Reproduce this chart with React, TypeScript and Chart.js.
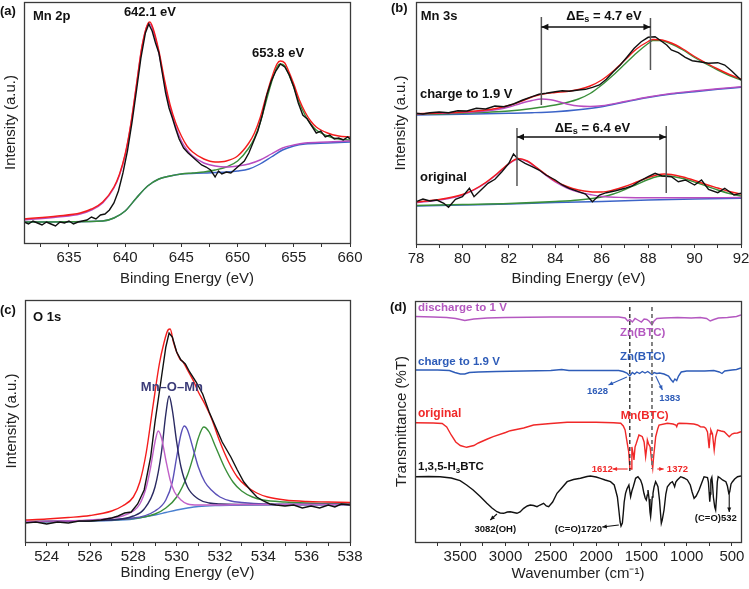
import React, { useEffect, useRef } from 'react';
import { Chart, registerables } from 'chart.js';
Chart.register(...registerables);

const FAM = '"Liberation Sans", Arial, Helvetica, sans-serif';
type Pt = [number, number];

// ---------------- (a) Mn 2p ----------------
const mn2pRaw: Pt[] = [
  [631.0, 21], [631.4, 19], [631.8, 22], [632.2, 20], [632.6, 18], [633.0, 21], [633.4, 19], [633.8, 17],
  [634.2, 21], [634.6, 20], [635.0, 22], [635.4, 19], [635.8, 21], [636.2, 22], [636.6, 23], [637.0, 26],
  [637.4, 24], [637.8, 28], [638.2, 29], [638.6, 33], [639.0, 40], [639.4, 52], [639.8, 70], [640.2, 92],
  [640.6, 120], [641.0, 152], [641.4, 185], [641.8, 210], [642.1, 219], [642.4, 212], [642.7, 200],
  [643.0, 190], [643.3, 170], [643.6, 150], [643.9, 135], [644.2, 125], [644.5, 114], [644.8, 104],
  [645.2, 95], [645.6, 90], [646.0, 86], [646.4, 82], [646.8, 78], [647.2, 76], [647.6, 73], [648.0, 66],
  [648.3, 72], [648.6, 69], [649.0, 71], [649.4, 70], [649.8, 74], [650.2, 78], [650.6, 82], [651.0, 90],
  [651.4, 101], [651.8, 112], [652.2, 128], [652.6, 148], [653.0, 162], [653.4, 172], [653.8, 179],
  [654.2, 176], [654.6, 168], [655.0, 156], [655.4, 140], [655.8, 128], [656.2, 124], [656.6, 117],
  [657.0, 110], [657.4, 112], [657.8, 106], [658.2, 108], [658.6, 104], [659.0, 105], [659.4, 103],
  [659.8, 106], [660.0, 104],
];
const mn2pEnvelope: Pt[] = [
  [631, 24], [634, 27], [636, 30], [637, 34], [638, 41], [639, 56], [639.5, 69], [640, 89], [640.5, 119],
  [641, 158], [641.5, 197], [642, 219], [642.2, 221], [642.5, 214], [643, 192], [643.5, 163], [644, 138],
  [644.5, 120], [645, 107], [645.5, 97], [646, 91], [647, 84], [648, 81], [649, 82], [650, 87], [651, 100],
  [651.5, 110], [652, 125], [652.5, 145], [653, 164], [653.5, 179], [653.8, 182], [654.2, 180], [654.5, 173],
  [655, 159], [655.5, 143], [656, 131], [656.5, 122], [657, 116], [658, 110], [659, 107], [660, 106],
];
const mn2p32Fit: Pt[] = [
  [631, 23], [634, 26], [636, 29], [637, 33], [638, 40], [639, 55], [639.5, 68], [640, 88], [640.5, 118],
  [641, 157], [641.5, 196], [642, 218], [642.2, 219], [642.5, 212], [643, 190], [643.5, 160], [644, 135],
  [644.5, 116], [645, 102], [645.5, 93], [646, 87], [647, 80], [648, 77], [649, 76], [650, 77], [651, 79],
  [652, 83], [653, 89], [654, 95], [655, 98], [656, 100], [658, 101], [660, 102],
];
const mn2p12Fit: Pt[] = [
  [631, 21], [638, 22], [639, 25], [640, 32], [641, 45], [642, 57], [643, 64], [644, 67], [645, 69],
  [646, 70], [647, 71], [648, 73], [649, 76], [650, 82], [651, 95], [651.5, 105], [652, 120], [652.5, 140],
  [653, 160], [653.5, 176], [653.8, 179], [654.2, 177], [654.5, 170], [655, 156], [655.5, 140], [656, 128],
  [656.5, 119], [657, 113], [658, 107], [659, 104], [660, 103],
];
const mn2pBackground: Pt[] = [
  [631, 21], [638, 22], [639, 25], [640, 32], [641, 45], [642, 57], [643, 64], [644, 67], [645, 69],
  [647, 70], [649, 71], [650, 72], [651, 74], [652, 79], [653, 86], [654, 93], [655, 97], [656, 99],
  [658, 100], [660, 101],
];

// ---------------- (b) Mn 3s ----------------
const mn3sChargedRaw: Pt[] = [
  [78.0, 130.7], [78.3, 130], [78.6, 131.3], [79.0, 132], [79.4, 131.3], [79.8, 133.3], [80.2, 133],
  [80.6, 135.7], [81.0, 135], [81.4, 138], [81.8, 137.3], [82.2, 140], [82.6, 144], [83.0, 147.3],
  [83.3, 149.7], [83.6, 150.7], [84.0, 152.3], [84.3, 153.3], [84.6, 152.7], [85.0, 154], [85.3, 154.7],
  [85.6, 156.7], [85.9, 159], [86.2, 164.7], [86.5, 172.3], [86.8, 179], [87.1, 187.3], [87.4, 195.7],
  [87.7, 202.3], [88.0, 206.7], [88.3, 207.3], [88.5, 204], [88.8, 199], [89.0, 194], [89.3, 191.3],
  [89.6, 186.7], [89.9, 183.3], [90.2, 182.3], [90.6, 180.7], [91.0, 181.3], [91.3, 179], [91.6, 173],
  [92.0, 164],
];
const mn3sChargedEnvelope: Pt[] = [
  [78, 130.3], [79, 131], [80, 132], [81, 134], [81.5, 135.8], [82, 138.5], [82.5, 142.5], [83, 147],
  [83.4, 149.8], [84, 151.5], [84.5, 152.5], [85, 154.5], [85.5, 158], [86, 164], [86.5, 173], [87, 184],
  [87.5, 195], [88, 202.5], [88.2, 204.5], [88.5, 204.3], [89, 201], [89.5, 195], [90, 187.5], [90.5, 181],
  [91, 175], [91.5, 169.5], [92, 165],
];
const mn3sChargedLow: Pt[] = [
  [78, 130], [79, 130.8], [80, 131.5], [81, 133], [81.5, 134.5], [82, 137], [82.5, 140.5], [83, 143.5],
  [83.4, 145], [83.8, 144.3], [84.2, 142], [84.6, 139.5], [85, 138], [85.5, 137.5], [86, 138.3], [87, 142.5],
  [88, 147], [89, 150.5], [90, 153], [91, 155.3], [92, 157.3],
];
const mn3sChargedHigh: Pt[] = [
  [78, 129.7], [79, 130], [80, 130.7], [81, 131.7], [82, 133], [83, 135.5], [84, 139], [84.5, 141.5],
  [85, 145], [85.5, 150.5], [86, 159], [86.5, 169], [87, 180], [87.5, 191], [88, 200.5], [88.2, 203.5],
  [88.5, 203.5], [89, 200], [89.5, 194], [90, 186.5], [90.5, 180], [91, 174], [91.5, 168.5], [92, 164],
];
const mn3sChargedBackground: Pt[] = [
  [78, 129], [80, 129.7], [82, 130.7], [83, 131.3], [84, 132.3], [85, 134.3], [86, 137.3], [87, 142],
  [88, 146.5], [89, 150], [90, 152.3], [91, 154.7], [92, 156.7],
];
const mn3sOriginalRaw: Pt[] = [
  [78.0, 42.3], [78.3, 45], [78.6, 43], [78.9, 44], [79.2, 40.7], [79.4, 36.7], [79.7, 44.7], [80.0, 47.3],
  [80.3, 55.7], [80.5, 47.3], [80.8, 54], [81.1, 60.7], [81.4, 64.7], [81.7, 72.3], [82.0, 80.7], [82.2, 90],
  [82.4, 84.7], [82.7, 80.7], [83.0, 77.3], [83.3, 74], [83.6, 69], [84.0, 64], [84.3, 59], [84.6, 55.7],
  [85.0, 52.3], [85.3, 50], [85.6, 42.3], [85.9, 49], [86.2, 51.3], [86.6, 53.3], [87.0, 55.7], [87.3, 58],
  [87.6, 62.3], [88.0, 67.3], [88.3, 70.7], [88.6, 68], [89.0, 67.3], [89.3, 62.3], [89.6, 64], [90.0, 59],
  [90.3, 64], [90.6, 54.7], [91.0, 51.3], [91.3, 55.7], [91.7, 49], [92.0, 50.7],
];
const mn3sOriginalEnvelope: Pt[] = [
  [78, 42], [79, 44.5], [80, 49.5], [80.5, 54.5], [81, 61.5], [81.5, 70.5], [82, 80.5], [82.4, 85.5],
  [82.8, 83], [83.2, 76.5], [83.6, 69.5], [84, 63], [84.5, 57.5], [85, 54], [85.5, 52.3], [86, 52],
  [86.5, 54], [87, 57.5], [87.5, 62], [88, 66.5], [88.4, 69.3], [88.7, 70], [89, 69.5], [89.5, 67],
  [90, 63.5], [90.5, 59.5], [91, 56], [91.5, 52.5], [92, 50],
];
const mn3sOriginalLow: Pt[] = [
  [78, 41.5], [78.5, 42.5], [79, 44], [79.5, 46], [80, 49], [80.5, 54], [81, 61], [81.5, 70], [82, 80],
  [82.4, 85], [82.8, 82.5], [83.2, 76], [83.6, 68.5], [84, 62], [84.5, 56], [85, 52], [85.5, 49.5],
  [86, 47.5], [87, 46.5], [88, 46.2], [90, 46.2], [92, 46.5],
];
const mn3sOriginalHigh: Pt[] = [
  [78, 38.5], [80, 39.5], [82, 40.5], [84, 42.5], [85, 44], [86, 47], [86.5, 50], [87, 54.5], [87.5, 59.5],
  [88, 64.5], [88.4, 67.5], [88.7, 68.3], [89, 67.8], [89.5, 65.5], [90, 62], [90.5, 58], [91, 54],
  [91.5, 50.5], [92, 48],
];
const mn3sOriginalBackground: Pt[] = [
  [78, 38], [80, 39], [82, 40], [84, 41.5], [86, 42.5], [88, 44], [90, 45], [92, 45.7],
];

// ---------------- (c) O 1s ----------------
const o1sRaw: Pt[] = [
  [523, 19], [523.5, 20], [524, 18], [524.5, 20], [525, 19], [525.5, 21], [526, 21], [526.5, 22], [527, 24],
  [527.3, 26], [527.6, 29], [527.9, 30], [528.2, 38], [528.5, 52], [528.8, 85], [529.0, 120], [529.3, 165],
  [529.5, 195], [529.65, 209], [529.8, 205], [530.0, 190], [530.2, 182], [530.4, 178], [530.6, 170],
  [530.9, 160], [531.2, 148], [531.5, 130], [531.8, 115], [532.1, 100], [532.5, 85], [532.8, 72],
  [533.1, 60], [533.4, 52], [533.7, 45], [534, 41], [534.3, 38], [534.6, 37], [535, 36], [535.4, 37],
  [535.8, 34], [536.2, 36], [536.6, 34], [537, 37], [537.3, 35], [537.6, 38], [538, 37],
];
const o1sEnvelope: Pt[] = [
  [523, 22], [524, 23], [525, 24.5], [526, 26.5], [527, 31], [527.5, 36], [528, 45], [528.3, 60], [528.6, 90],
  [528.9, 135], [529.2, 178], [529.4, 198], [529.6, 212], [529.7, 213], [529.85, 200], [530.0, 190],
  [530.15, 183], [530.3, 180], [530.5, 172], [530.8, 160], [531.0, 150], [531.3, 138], [531.6, 124],
  [532.0, 100], [532.4, 80], [532.8, 65], [533.2, 56], [533.7, 49], [534.2, 45], [535, 42], [536, 40.5],
  [537, 40], [538, 39.5],
];
const o1sPeak1: Pt[] = [
  [523, 20.5], [526, 22], [527, 24], [527.5, 26], [528, 31], [528.3, 38], [528.6, 55], [528.8, 75],
  [529.0, 100], [529.15, 111], [529.3, 104], [529.5, 82], [529.7, 62], [529.9, 50], [530.2, 42], [530.5, 38],
  [531, 37], [532, 37], [533, 37.5], [538, 37.5],
];
const o1sPeak2: Pt[] = [
  [523, 20.3], [527, 22], [528, 26], [528.5, 33], [529, 55], [529.3, 90], [529.5, 128], [529.65, 146],
  [529.8, 132], [530.0, 100], [530.2, 75], [530.5, 55], [531, 43], [531.5, 39], [532, 38], [534, 37.5],
  [538, 37.5],
];
const o1sPeak3: Pt[] = [
  [523, 20.3], [528, 24], [529, 31], [529.5, 42], [529.8, 60], [530.0, 85], [530.2, 108], [530.35, 116],
  [530.5, 112], [530.8, 90], [531.0, 75], [531.3, 60], [531.6, 52], [532, 45], [532.5, 41], [533, 39.5],
  [534, 38], [538, 37.5],
];
const o1sPeak4: Pt[] = [
  [523, 20.3], [528, 23.5], [529, 28], [529.5, 34], [530, 45], [530.5, 67], [530.8, 88], [531.0, 104],
  [531.25, 115], [531.5, 110], [531.8, 95], [532.2, 75], [532.6, 60], [533, 51], [533.5, 45], [534, 42],
  [535, 40], [536, 39], [538, 38],
];
const o1sBackground: Pt[] = [
  [523, 20], [526, 21], [527, 21.5], [528, 23], [528.5, 25], [529, 27], [529.5, 29.5], [530, 32],
  [530.5, 34], [531, 35.5], [532, 36.5], [533, 37], [535, 37.3], [538, 37.5],
];

// ---------------- (d) FTIR ----------------
const irDischarge: Pt[] = [
  [4000, 225.5], [3800, 225], [3650, 224.5], [3550, 223.5], [3450, 221.5], [3350, 223], [3200, 224],
  [3000, 224.5], [2500, 225], [2000, 225], [1750, 225], [1680, 224], [1650, 221], [1628, 222.5],
  [1600, 220], [1570, 223.5], [1540, 222], [1500, 220], [1470, 223], [1440, 222.5], [1410, 220.5],
  [1383, 217], [1360, 221], [1330, 223.5], [1250, 224], [1100, 224.5], [950, 224], [850, 224.5],
  [780, 223.5], [740, 221], [700, 222.5], [650, 224], [550, 224.5], [450, 225.5], [400, 227],
];
const irCharge: Pt[] = [
  [4000, 172], [3750, 172], [3620, 171.5], [3560, 169.5], [3500, 168], [3450, 168], [3400, 169.5],
  [3300, 170], [3100, 170.5], [2800, 171], [2500, 171.5], [2380, 172.5], [2300, 171.5], [2000, 171.5],
  [1750, 171.5], [1700, 170.5], [1660, 169], [1628, 166], [1600, 169.5], [1575, 168], [1550, 170],
  [1520, 168.5], [1490, 170.5], [1460, 169], [1430, 170.5], [1400, 168.5], [1383, 167.5], [1360, 169.5],
  [1330, 168.5], [1300, 169], [1250, 168], [1200, 166], [1170, 162], [1150, 160], [1130, 163],
  [1110, 161.5], [1090, 166], [1060, 170], [1000, 171], [900, 171], [800, 171], [700, 171.5], [640, 170],
  [610, 168.5], [580, 171], [500, 172], [450, 172.5], [400, 174],
];
const irOriginal: Pt[] = [
  [4000, 119.3], [3800, 119], [3700, 118.5], [3650, 115], [3600, 107], [3550, 100], [3500, 96.5],
  [3430, 94.7], [3350, 96.5], [3300, 99], [3200, 103], [3136, 105.3], [3000, 109.5], [2948, 111.3],
  [2800, 114], [2690, 117], [2500, 118.5], [2320, 119.7], [2000, 119.7], [1807, 119.3], [1728, 118.7],
  [1700, 116], [1680, 112], [1656, 98.7], [1640, 90], [1627, 73.7], [1612, 73], [1605, 95], [1590, 88],
  [1582, 82], [1570, 95], [1556, 98.7], [1527, 107], [1500, 106], [1490, 105.3], [1470, 100],
  [1453, 85.3], [1440, 95], [1434, 102], [1420, 98], [1404, 95.3], [1385, 80], [1375, 73.7], [1365, 85],
  [1342, 105.3], [1320, 113], [1305, 117], [1213, 118.7], [1150, 118], [1120, 117], [1110, 115.3],
  [1100, 118], [1084, 118.7], [1000, 118.5], [921, 118], [880, 117], [848, 115.3], [810, 115], [790, 113.7],
  [770, 110], [752, 93.7], [740, 108], [733, 112], [715, 108], [696, 92], [680, 105], [659, 112], [620, 111],
  [585, 110.3], [560, 108], [530, 105.3], [500, 108], [475, 108.7], [440, 109], [400, 110.3],
];
const irH3BTC: Pt[] = [
  [4000, 65.3], [3850, 65.5], [3723, 65.3], [3600, 64], [3502, 61.3], [3430, 57], [3358, 52], [3280, 45.5],
  [3206, 38.7], [3150, 34], [3095, 30.3], [3060, 29], [3021, 28.7], [2980, 30], [2948, 30.3], [2910, 29.5],
  [2874, 28.7], [2840, 30], [2800, 33.7], [2760, 36], [2727, 37], [2690, 36.5], [2653, 35.3], [2620, 37],
  [2580, 38.7], [2550, 36], [2524, 35.3], [2480, 40], [2432, 48.7], [2380, 54], [2320, 60.3], [2250, 62.5],
  [2173, 63.7], [2100, 65.5], [2062, 66], [2000, 65], [1952, 63.7], [1900, 62], [1841, 60.3], [1800, 57],
  [1785, 52], [1765, 45], [1749, 32], [1735, 20], [1725, 16], [1710, 19], [1700, 28.7], [1690, 40],
  [1675, 48.7], [1660, 53], [1638, 57], [1630, 52], [1619, 45.3], [1605, 51], [1590, 55.3], [1575, 60],
  [1564, 63.7], [1538, 65.3], [1509, 62], [1490, 57], [1472, 48.7], [1458, 44], [1446, 42], [1435, 47],
  [1427, 52], [1415, 43], [1405, 30], [1398, 25.3], [1390, 33], [1380, 45], [1372, 48.7], [1360, 55],
  [1343, 60.3], [1330, 58], [1317, 55.3], [1300, 42], [1290, 30], [1280, 18.7], [1270, 22], [1250, 32],
  [1230, 48], [1213, 55.3], [1180, 59], [1158, 60.3], [1140, 57], [1133, 55.3], [1120, 60], [1103, 62],
  [1066, 65.3], [1030, 64], [992, 62], [960, 57], [940, 50], [918, 43.7], [895, 46], [863, 52], [830, 60],
  [808, 65.3], [770, 64.5], [760, 60], [752, 50], [745, 40.3], [738, 48], [733, 62], [722, 64.7], [715, 58],
  [705, 45], [690, 35], [680, 32], [670, 45], [662, 60], [652, 65.3], [630, 64], [604, 62], [580, 61],
  [567, 60.3], [550, 56], [535, 48.7], [525, 50], [510, 58], [494, 60.3], [470, 63], [438, 65.3], [400, 66],
];

// ---------------- tick values ----------------
const aMajor = [635, 640, 645, 650, 655, 660];
const aMinor = [632.5, 637.5, 642.5, 647.5, 652.5, 657.5];
const bMajor = [78, 80, 82, 84, 86, 88, 90, 92];
const bMinor = [79, 81, 83, 85, 87, 89, 91];
const cMajor = [524, 526, 528, 530, 532, 534, 536, 538];
const cMinor = [523, 525, 527, 529, 531, 533, 535, 537];
const dMajor = [3500, 3000, 2500, 2000, 1500, 1000, 500];
const dMinor = [3750, 3250, 2750, 2250, 1750, 1250, 750];

// ---------------- colours ----------------
const RED = '#f41c1c';
const PURPLE = '#b84cc0';
const GREEN = '#3a8f3a';
const BLUE = '#3c64c8';
const BLACK = '#111111';

type Seg = { t: string; sub?: boolean };
type Note =
  | { k: 'text'; x: number; y: number; segs: Seg[]; size: number; color: string; align: 'left' | 'center' }
  | { k: 'line'; x1: number; y1: number; x2: number; y2: number; color: string; width: number; dash?: number[] }
  | { k: 'arrow'; x1: number; y1: number; x2: number; y2: number; color: string; width: number; head: number; both?: boolean };

interface Series { data: Pt[]; color: string; width?: number; smooth?: boolean }
interface Panel {
  key: string; left: number; top: number; cw: number; ch: number;
  area: [number, number, number, number];
  xMin: number; xMax: number; reverse?: boolean; yMax: number;
  major: number[]; minor: number[];
  xTitle: string; yTitle: string; yTitlePad: number; xTitlePad: number;
  letter: string; letterPos: [number, number];
  series: Series[]; notes: Note[];
}

const T = (x: number, y: number, s: string | Seg[], size: number, color: string, align: 'left' | 'center' = 'left'): Note => ({
  k: 'text', x, y, segs: typeof s === 'string' ? [{ t: s }] : s, size, color, align,
});

const panels: Panel[] = [
  {
    key: 'a', left: 0, top: 0, cw: 394, ch: 294, area: [24, 2, 350, 243],
    xMin: 631, xMax: 660, yMax: 241, major: aMajor, minor: aMinor,
    xTitle: 'Binding Energy (eV)', yTitle: 'Intensity (a.u.)', yTitlePad: 2, xTitlePad: 6,
    letter: '(a)', letterPos: [-24, 9],
    series: [
      { data: mn2pRaw, color: BLACK },
      { data: mn2pEnvelope, color: RED, smooth: true },
      { data: mn2p32Fit, color: PURPLE, smooth: true },
      { data: mn2p12Fit, color: GREEN, smooth: true },
      { data: mn2pBackground, color: BLUE, smooth: true },
    ],
    notes: [
      T(631.8, 227, 'Mn 2p', 13, BLACK),
      T(642.2, 231, '642.1 eV', 13, BLACK, 'center'),
      T(653.6, 190, '653.8 eV', 13, BLACK, 'center'),
    ],
  },
  {
    key: 'b', left: 374, top: 0, cw: 395, ch: 294, area: [42, 2, 367, 244],
    xMin: 78, xMax: 92, yMax: 242, major: bMajor, minor: bMinor,
    xTitle: 'Binding Energy (eV)', yTitle: 'Intensity (a.u.)', yTitlePad: 18, xTitlePad: 6,
    letter: '(b)', letterPos: [-25, 6],
    series: [
      { data: mn3sChargedRaw, color: BLACK },
      { data: mn3sChargedEnvelope, color: RED, smooth: true },
      { data: mn3sChargedLow, color: PURPLE, smooth: true },
      { data: mn3sChargedHigh, color: GREEN, smooth: true },
      { data: mn3sChargedBackground, color: BLUE, smooth: true },
      { data: mn3sOriginalRaw, color: BLACK },
      { data: mn3sOriginalEnvelope, color: RED, smooth: true },
      { data: mn3sOriginalLow, color: PURPLE, smooth: true },
      { data: mn3sOriginalHigh, color: GREEN, smooth: true },
      { data: mn3sOriginalBackground, color: BLUE, smooth: true },
    ],
    notes: [
      T(78.2, 228, 'Mn 3s', 13, BLACK),
      T(78.17, 150, 'charge to 1.9 V', 13, BLACK),
      T(78.17, 67, 'original', 13, BLACK),
      { k: 'line', x1: 83.4, y1: 227, x2: 83.4, y2: 139, color: '#555', width: 1.5 },
      { k: 'line', x1: 88.1, y1: 226, x2: 88.1, y2: 174, color: '#555', width: 1.5 },
      { k: 'arrow', x1: 83.4, y1: 217, x2: 88.1, y2: 217, color: BLACK, width: 1.3, head: 7, both: true },
      T(86.1, 228, [{ t: 'ΔE' }, { t: 's', sub: true }, { t: ' = 4.7 eV' }], 13, BLACK, 'center'),
      { k: 'line', x1: 82.35, y1: 116, x2: 82.35, y2: 58, color: '#555', width: 1.5 },
      { k: 'line', x1: 88.78, y1: 118, x2: 88.78, y2: 51, color: '#555', width: 1.5 },
      { k: 'arrow', x1: 82.35, y1: 107, x2: 88.78, y2: 107, color: BLACK, width: 1.3, head: 7, both: true },
      T(85.6, 116, [{ t: 'ΔE' }, { t: 's', sub: true }, { t: ' = 6.4 eV' }], 13, BLACK, 'center'),
    ],
  },
  {
    key: 'c', left: 0, top: 294, cw: 394, ch: 295, area: [25, 6, 350, 248],
    xMin: 523, xMax: 538, yMax: 242, major: cMajor, minor: cMinor,
    xTitle: 'Binding Energy (eV)', yTitle: 'Intensity (a.u.)', yTitlePad: 3, xTitlePad: 7,
    letter: '(c)', letterPos: [-25, 10],
    series: [
      { data: o1sRaw, color: BLACK },
      { data: o1sEnvelope, color: RED, smooth: true },
      { data: o1sPeak1, color: '#c060c8', smooth: true },
      { data: o1sPeak2, color: '#2a2a62', smooth: true },
      { data: o1sPeak3, color: '#5a50b8', smooth: true },
      { data: o1sPeak4, color: GREEN, smooth: true },
      { data: o1sBackground, color: '#4a80d0', smooth: true },
    ],
    notes: [
      T(523.37, 225, 'O 1s', 13, BLACK),
      T(529.78, 155, 'Mn–O–Mn', 13, '#3b3b78', 'center'),
    ],
  },
  {
    key: 'd', left: 374, top: 294, cw: 395, ch: 295, area: [41, 7, 367, 248],
    xMin: 400, xMax: 4000, reverse: true, yMax: 241, major: dMajor, minor: dMinor,
    xTitle: 'Wavenumber (cm⁻¹)', yTitle: 'Transmittance (%T)', yTitlePad: 19, xTitlePad: 6,
    letter: '(d)', letterPos: [-25, 6],
    series: [
      { data: irH3BTC, color: BLACK, width: 1.4 },
      { data: irOriginal, color: '#f02828', width: 1.4 },
      { data: irCharge, color: '#2e5cb8', width: 1.4 },
      { data: irDischarge, color: '#b458c0', width: 1.4 },
    ],
    notes: [
      { k: 'line', x1: 1628, y1: 235, x2: 1628, y2: 71, color: '#222', width: 1.3, dash: [4, 3] },
      { k: 'line', x1: 1383, y1: 235, x2: 1383, y2: 73, color: '#777', width: 1.8, dash: [4, 3] },
      T(3967, 234, 'discharge to 1 V', 11.5, '#b458c0'),
      T(3967, 180, 'charge to 1.9 V', 11.5, '#2e5cb8'),
      T(3967, 128, 'original', 12, '#f02828'),
      T(3967, 75, [{ t: '1,3,5-H' }, { t: '3', sub: true }, { t: 'BTC' }], 11.5, BLACK),
      T(1486, 209, 'Zn(BTC)', 11.5, '#b458c0', 'center'),
      T(1486, 185, 'Zn(BTC)', 11.5, '#2e5cb8', 'center'),
      T(1464, 126, 'Mn(BTC)', 11.5, '#f02828', 'center'),
      T(1985, 151, '1628', 9.5, '#2e5cb8', 'center'),
      { k: 'arrow', x1: 1660, y1: 165, x2: 1863, y2: 157, color: '#2e5cb8', width: 1.1, head: 4.5 },
      T(1187, 144, '1383', 9.5, '#2e5cb8', 'center'),
      { k: 'arrow', x1: 1342, y1: 166, x2: 1268, y2: 152, color: '#2e5cb8', width: 1.1, head: 4.5 },
      T(1932, 73, '1612', 9.5, '#f02828', 'center'),
      { k: 'arrow', x1: 1652, y1: 73, x2: 1818, y2: 73, color: '#f02828', width: 1.1, head: 4.5 },
      T(1102, 73, '1372', 9.5, '#f02828', 'center'),
      { k: 'arrow', x1: 1324, y1: 73, x2: 1254, y2: 73, color: '#f02828', width: 1.1, head: 4.5 },
      T(3114, 13, '3082(OH)', 9.5, BLACK, 'center'),
      { k: 'arrow', x1: 3095, y1: 28, x2: 3169, y2: 22, color: BLACK, width: 1.1, head: 4.5 },
      T(2195, 13, '(C=O)1720', 9.5, BLACK, 'center'),
      { k: 'arrow', x1: 1749, y1: 17, x2: 1932, y2: 15, color: BLACK, width: 1.1, head: 4.5 },
      T(678, 24, '(C=O)532', 9.5, BLACK, 'center'),
      { k: 'arrow', x1: 530, y1: 49, x2: 530, y2: 30, color: BLACK, width: 1.1, head: 4.5 },
    ],
  },
];

function drawRich(ctx: CanvasRenderingContext2D, segs: Seg[], x: number, y: number, size: number, color: string, align: string) {
  const main = `bold ${size}px ${FAM}`;
  const small = `bold ${(size * 0.7).toFixed(1)}px ${FAM}`;
  let total = 0;
  for (const s of segs) { ctx.font = s.sub ? small : main; total += ctx.measureText(s.t).width; }
  let cx = align === 'center' ? x - total / 2 : x;
  ctx.textAlign = 'left';
  ctx.textBaseline = 'middle';
  ctx.fillStyle = color;
  for (const s of segs) {
    ctx.font = s.sub ? small : main;
    ctx.fillText(s.t, cx, s.sub ? y + size * 0.3 : y);
    cx += ctx.measureText(s.t).width;
  }
}

function arrowHead(ctx: CanvasRenderingContext2D, fx: number, fy: number, tx: number, ty: number, h: number) {
  const ang = Math.atan2(ty - fy, tx - fx);
  ctx.beginPath();
  ctx.moveTo(tx, ty);
  ctx.lineTo(tx - h * Math.cos(ang) + h * 0.45 * Math.sin(ang), ty - h * Math.sin(ang) - h * 0.45 * Math.cos(ang));
  ctx.lineTo(tx - h * Math.cos(ang) - h * 0.45 * Math.sin(ang), ty - h * Math.sin(ang) + h * 0.45 * Math.cos(ang));
  ctx.closePath();
  ctx.fill();
}

function notesPlugin(p: Panel) {
  return {
    id: 'notes_' + p.key,
    afterDraw(chart: any) {
      const { ctx, chartArea: ca, scales } = chart;
      const X = (v: number) => scales.x.getPixelForValue(v);
      const Y = (v: number) => scales.y.getPixelForValue(v);
      ctx.save();
      ctx.strokeStyle = '#3a3a3a';
      ctx.lineWidth = 1.3;
      ctx.strokeRect(Math.round(ca.left) + 0.5, Math.round(ca.top) + 0.5, Math.round(ca.right - ca.left), Math.round(ca.bottom - ca.top));
      for (const n of p.notes) {
        if (n.k === 'text') {
          drawRich(ctx, n.segs, X(n.x), Y(n.y), n.size, n.color, n.align);
        } else if (n.k === 'line') {
          ctx.strokeStyle = n.color;
          ctx.lineWidth = n.width;
          ctx.setLineDash(n.dash || []);
          ctx.beginPath();
          ctx.moveTo(X(n.x1), Y(n.y1));
          ctx.lineTo(X(n.x2), Y(n.y2));
          ctx.stroke();
          ctx.setLineDash([]);
        } else {
          const x1 = X(n.x1), y1 = Y(n.y1), x2 = X(n.x2), y2 = Y(n.y2);
          ctx.strokeStyle = n.color;
          ctx.fillStyle = n.color;
          ctx.lineWidth = n.width;
          ctx.beginPath();
          ctx.moveTo(x1, y1);
          ctx.lineTo(x2, y2);
          ctx.stroke();
          arrowHead(ctx, x1, y1, x2, y2, n.head);
          if (n.both) arrowHead(ctx, x2, y2, x1, y1, n.head);
        }
      }
      drawRich(ctx, [{ t: p.letter }], ca.left + p.letterPos[0], ca.top + p.letterPos[1], 13, '#111', 'left');
      ctx.restore();
    },
  };
}

function PanelChart({ p }: { p: Panel }) {
  const ref = useRef<HTMLCanvasElement>(null);
  useEffect(() => {
    const cv = ref.current;
    if (!cv) return;
    const [l, t, r, b] = p.area;
    const ticks = [...p.major, ...p.minor].sort((u, v) => u - v);
    const chart = new Chart(cv, {
      type: 'scatter',
      data: {
        datasets: p.series.map((s) => ({
          data: s.data.map(([x, y]) => ({ x, y })),
          showLine: true,
          borderColor: s.color,
          backgroundColor: s.color,
          borderWidth: s.width ?? 1.4,
          pointRadius: 0,
          pointHoverRadius: 0,
          tension: s.smooth ? 0.4 : 0,
          cubicInterpolationMode: s.smooth ? 'monotone' : 'default',
          fill: false,
        })),
      },
      options: {
        responsive: false,
        animation: false,
        events: [],
        layout: { padding: { left: 0, top: t, right: p.cw - r, bottom: 0 } },
        plugins: { legend: { display: false }, tooltip: { enabled: false } },
        scales: {
          x: {
            type: 'linear', min: p.xMin, max: p.xMax, reverse: !!p.reverse,
            afterFit: (s: any) => { s.height = p.ch - b; },
            afterBuildTicks: (s: any) => { s.ticks = ticks.map((v) => ({ value: v })); },
            ticks: {
              autoSkip: false, maxRotation: 0, padding: 2, color: '#222',
              font: { family: FAM, size: 15 },
              callback: (v: any) => (p.major.includes(Number(v)) ? String(v) : ''),
            },
            grid: { display: true, drawOnChartArea: false, drawTicks: true, tickLength: 4, tickColor: '#333', lineWidth: 1 },
            border: { display: false },
            title: { display: true, text: p.xTitle, color: '#222', font: { family: FAM, size: 15 }, padding: { top: 0, bottom: p.xTitlePad } },
          },
          y: {
            type: 'linear', min: 0, max: p.yMax,
            afterFit: (s: any) => { s.width = l; },
            ticks: { display: false },
            grid: { display: false },
            border: { display: false },
            title: { display: true, text: p.yTitle, color: '#222', font: { family: FAM, size: 15 }, padding: { top: p.yTitlePad, bottom: 0 } },
          },
        },
      } as any,
      plugins: [notesPlugin(p)],
    });
    return () => chart.destroy();
  }, [p]);
  return (
    <canvas
      ref={ref}
      width={p.cw}
      height={p.ch}
      style={{ position: 'absolute', left: p.left, top: p.top, width: p.cw, height: p.ch }}
    />
  );
}

export default function App() {
  return (
    <div style={{ position: 'fixed', left: 0, top: 0, width: 749, height: 589, overflow: 'hidden', background: '#fff' }}>
      {panels.map((p) => (
        <PanelChart key={p.key} p={p} />
      ))}
    </div>
  );
}
